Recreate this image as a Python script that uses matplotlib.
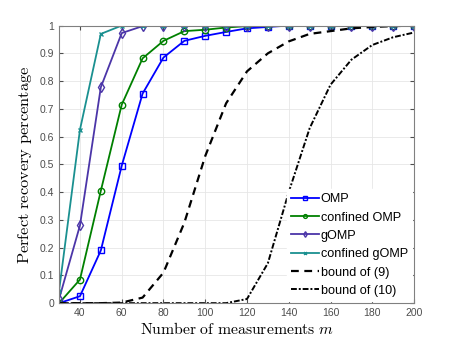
import matplotlib
matplotlib.use("Agg")
import matplotlib.pyplot as plt

m = [30, 40, 50, 60, 70, 80, 90, 100, 110, 120, 130, 140, 150, 160, 170, 180, 190, 200]
omp = [0.0, 0.025, 0.19, 0.495, 0.755, 0.885, 0.945, 0.963, 0.977, 0.99, 0.995, 1, 1, 1, 1, 1, 1, 1]
conf_omp = [0.0, 0.085, 0.405, 0.715, 0.882, 0.945, 0.98, 0.985, 0.993, 0.998, 1, 1, 1, 1, 1, 1, 1, 1]
gomp = [0.015, 0.28, 0.778, 0.973, 0.998, 1, 1, 1, 1, 1, 1, 1, 1, 1, 1, 1, 1, 1]
conf_gomp = [0.045, 0.625, 0.97, 1, 1, 1, 1, 1, 1, 1, 1, 1, 1, 1, 1, 1, 1, 1]
bound9 = [0.0, 0.0, 0.0, 0.002, 0.02, 0.11, 0.29, 0.53, 0.72, 0.835, 0.90, 0.943, 0.97, 0.98, 0.99, 0.995, 0.998, 1.0]
bound10 = [0.0, 0.0, 0.0, 0.0, 0.0, 0.0, 0.0, 0.0, 0.0, 0.015, 0.144, 0.40, 0.63, 0.787, 0.877, 0.93, 0.958, 0.975]

labels = ["OMP", "confined OMP", "gOMP", "confined gOMP", "bound of (9)", "bound of (10)"]
xticks = [40, 60, 80, 100, 120, 140, 160, 180, 200]
yticks = [0, 0.1, 0.2, 0.3, 0.4, 0.5, 0.6, 0.7, 0.8, 0.9, 1]
ytick_labels = ["0", "0.1", "0.2", "0.3", "0.4", "0.5", "0.6", "0.7", "0.8", "0.9", "1"]

plt.rcParams['mathtext.fontset'] = 'cm'
plt.rcParams['font.family'] = ['Liberation Sans', 'DejaVu Sans']

fig = plt.figure(figsize=(4.58, 3.41), dpi=100)
ax = fig.add_axes([0.129, 0.111, 0.775, 0.814])

ax.plot(m, omp, '-s', color='#0000FF', mfc='none', ms=3.8, lw=1.3, mew=1.0, label=labels[0])
ax.plot(m, conf_omp, '-o', color='#008000', mfc='none', ms=4.6, lw=1.3, mew=1.0, label=labels[1])
ax.plot(m, gomp, '-d', color='#4B35A8', mfc='none', ms=4.8, lw=1.3, mew=1.0, label=labels[2])
ax.plot(m, conf_gomp, '-x', color='#1A9090', ms=3.5, lw=1.3, mew=1.0, label=labels[3])
ax.plot(m, bound9, '--', color='black', lw=1.6, dashes=(3.5, 2.5), label=labels[4])
ax.plot(m, bound10, '-.', color='black', lw=1.4, dashes=(3, 1, 1, 1), label=labels[5])

ax.set_xlim(30, 200)
ax.set_ylim(0, 1)
ax.set_xticks(xticks)
ax.set_yticks(yticks)
ax.set_yticklabels(ytick_labels)
ax.tick_params(axis='both', labelsize=7.5, colors='#4d4d4d', direction='in', length=3,
               top=True, right=True)
ax.grid(True, color='#e6e6e6', lw=0.6)
ax.set_axisbelow(True)
for s in ax.spines.values():
    s.set_color('#808080')
    s.set_linewidth(0.8)

ax.set_xlabel(r'$\mathrm{Number\ of\ measurements}\ m$', fontsize=11.3, labelpad=2)
ax.set_ylabel(r'$\mathrm{Perfect\ recovery\ percentage}$', fontsize=11.8, labelpad=4)

leg = ax.legend(loc='lower right', fontsize=9.1, frameon=True, handlelength=2.2,
                handletextpad=0.15, labelspacing=0.5, borderpad=0.3, borderaxespad=0.2,
                markerscale=0.6)
leg.get_frame().set_edgecolor('white')
leg.get_frame().set_alpha(1)
leg.get_frame().set_boxstyle('square', pad=0)

fig.savefig('out.png', dpi=100)
